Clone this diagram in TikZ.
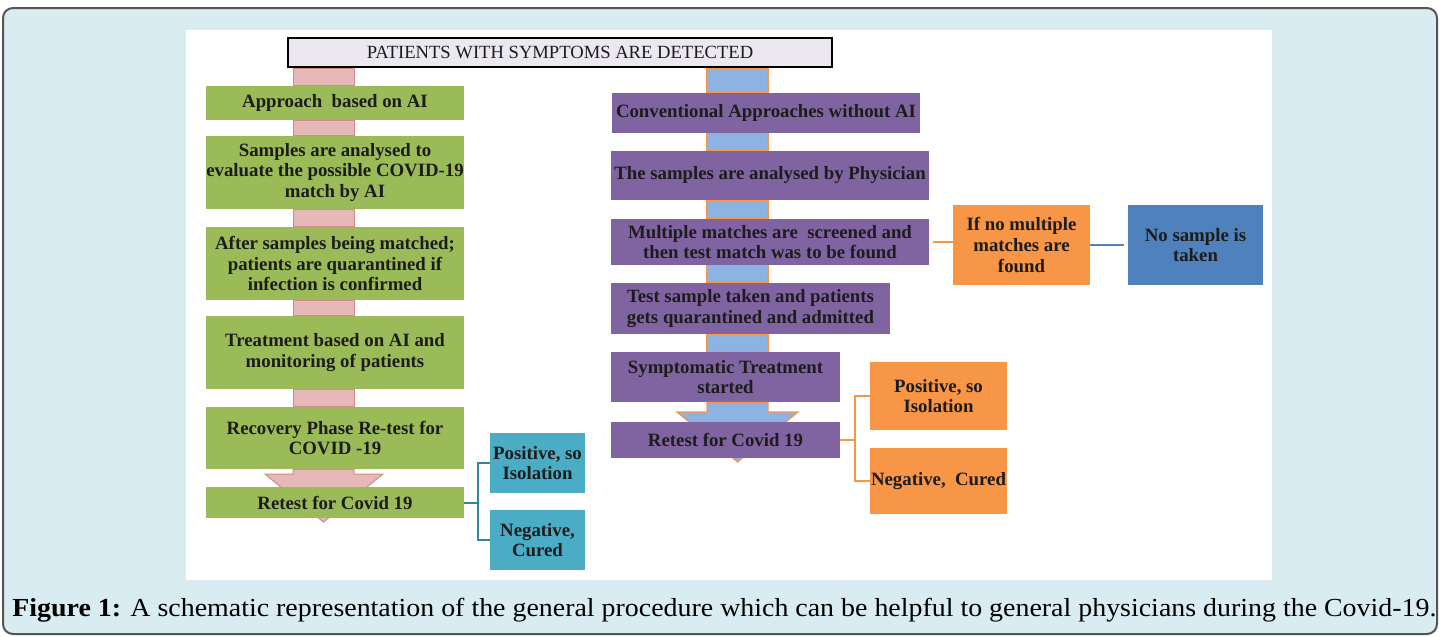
\documentclass[tikz,border=0pt]{standalone}
\usepackage{graphicx}
\usepackage{fontspec}
\setmainfont{Liberation Serif}
\usetikzlibrary{arrows}

\definecolor{bgblue}{HTML}{D9ECF2}
\definecolor{frame}{HTML}{555555}
\definecolor{agreen}{HTML}{9BBB59}
\definecolor{apurple}{HTML}{8064A2}
\definecolor{aorange}{HTML}{F79646}
\definecolor{ateal}{HTML}{4BACC6}
\definecolor{ablue}{HTML}{4F81BD}
\definecolor{barpink}{HTML}{E6B9B8}
\definecolor{barpinkline}{HTML}{D08A88}
\definecolor{barblue}{HTML}{8DB3E2}
\definecolor{hdfill}{HTML}{EBE8F0}
\definecolor{txt}{HTML}{1C1C1C}
\definecolor{tealline}{HTML}{31859C}

\begin{document}
\begin{tikzpicture}[x=0.5pt,y=-0.5pt]
\tikzstyle{every node}=[inner sep=0pt, align=center, text=txt, font=\fontsize{9.4}{10.3}\selectfont\bfseries]
\tikzstyle{gbox}=[rectangle, fill=agreen, minimum width=129pt]
\tikzstyle{pbox}=[rectangle, fill=apurple]
\tikzstyle{obox}=[rectangle, fill=aorange, minimum width=68.5pt]
\tikzstyle{tbox}=[rectangle, fill=ateal, minimum width=47.5pt, minimum height=30pt]
\tikzstyle{pinkbar}=[fill=barpink, draw=barpinkline, line width=0.5pt]
\tikzstyle{bluebar}=[fill=barblue, draw=aorange, line width=0.6pt]
\useasboundingbox (0,0) rectangle (1441,637);
\fill[white] (0,0) rectangle (1441,637);
\draw[fill=bgblue, draw=frame, line width=1pt, rounded corners=5pt] (3,8) rectangle (1437,634);
\fill[white] (186,30) rectangle (1272,580);
% header
\node (hd) [rectangle, fill=hdfill, draw=black, line width=1.4pt, minimum width=272pt, minimum height=14.5pt, font=\fontsize{9.3}{10}\selectfont] at (560,52.5) {PATIENTS WITH SYMPTOMS ARE DETECTED};
% AI branch
\node (g1) [gbox, minimum height=17pt] at (335,103) {Approach~ based on AI};
\node (g2) [gbox, minimum height=36.5pt] at (335,172.5) {Samples are analysed to\\evaluate the possible COVID-19\\match by AI};
\node (g3) [gbox, minimum height=36.5pt] at (335,263.5) {After samples being matched;\\patients are quarantined if\\infection is confirmed};
\node (g4) [gbox, minimum height=36.5pt] at (335,352.5) {Treatment based on AI and\\monitoring of patients};
\node (g5) [gbox, minimum height=31pt] at (335,438) {Recovery Phase Re-test for\\COVID -19};
\node (lpos) [tbox] at (537.5,463) {Positive, so\\Isolation};
\node (lneg) [tbox] at (537.5,540) {Negative,\\Cured};
% conventional branch
\node (p1) [pbox, minimum width=154pt, minimum height=20pt] at (766,113) {Conventional Approaches without AI};
\node (p2) [pbox, minimum width=159pt, minimum height=24.5pt] at (770,175.5) {The samples are analysed by Physician};
\node (p3) [pbox, minimum width=159pt, minimum height=23pt] at (770,242) {Multiple matches are~ screened and\\then test match was to be found};
\node (p4) [pbox, minimum width=139.5pt, minimum height=25.5pt] at (750.5,308.5) {Test sample taken and patients\\gets quarantined and admitted};
\node (p5) [pbox, minimum width=114.5pt, minimum height=25pt] at (725.5,377) {Symptomatic Treatment\\started};
\node (o1) [obox, minimum height=40pt] at (1021.5,245) {If no multiple\\matches are\\found};
\node (ns) [rectangle, fill=ablue, minimum width=67.5pt, minimum height=40pt] at (1195.5,245) {No sample is\\taken};
\node (rpos) [obox, minimum height=34pt] at (938.5,396) {Positive, so\\Isolation};
\node (rneg) [obox, minimum height=33pt] at (938.5,481) {Negative,~ Cured};
% bars
\coordinate (lbl) at (293,0);
\coordinate (lbr) at (354,0);
\coordinate (rbl) at (707,0);
\coordinate (rbr) at (768,0);
\foreach \a/\b in {hd/g1,g1/g2,g2/g3,g3/g4,g4/g5}
  \draw[pinkbar] (lbl |- \a.south) rectangle (lbr |- \b.north);
\foreach \a/\b in {hd/p1,p1/p2,p2/p3,p3/p4,p4/p5}
  \draw[bluebar] (rbl |- \a.south) rectangle (rbr |- \b.north);
\draw[pinkbar] (lbl |- g5.south) -- (293,474) -- (265,474) -- (323.5,522) -- (383,474) -- (354,474) -- (lbr |- g5.south) -- cycle;
\draw[bluebar] (rbl |- p5.south) -- (707,412) -- (677,412) -- (737.5,462) -- (798,412) -- (768,412) -- (rbr |- p5.south) -- cycle;
\node (g6) [gbox, minimum height=15.5pt] at (335,502.5) {Retest for Covid 19};
\node (p6) [pbox, minimum width=114.5pt, minimum height=18pt] at (725.5,440) {Retest for Covid 19};
% lines
\path (g6.east) ++(14,0) coordinate (lj);
\path (p6.east) ++(15,0) coordinate (rj);
\draw[tealline, line width=1pt] (g6.east) -- (lj);
\draw[tealline, line width=1pt] (lpos.west) -| (lj) |- (lneg.west);
\draw[aorange, line width=1pt] (p6.east) -- (rj);
\draw[aorange, line width=1pt] (rpos.west) -| (rj) |- (rneg.west);
\draw[aorange, line width=1pt, shorten <=2pt] (p3.east) -- (p3.east -| o1.west);
\draw[ablue, line width=1pt, shorten >=2pt] (o1.east) -- (ns.west);
% caption
\node (cap) [anchor=base west, font=\fontsize{13}{15}\selectfont, text=black] at (12,616) {\resizebox{712pt}{\height}{\textbf{Figure 1:} A schematic representation of the general procedure which can be helpful to general physicians during the Covid-19.}};
\end{tikzpicture}
\end{document}
